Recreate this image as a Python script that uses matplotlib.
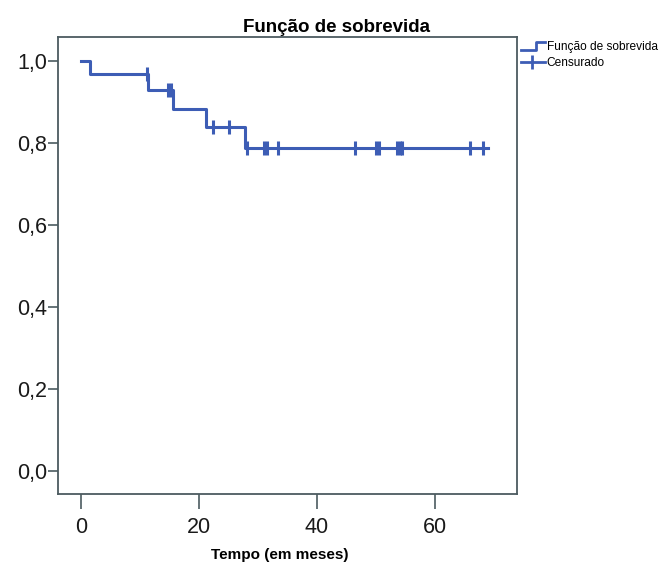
import matplotlib
matplotlib.use("Agg")
import matplotlib.pyplot as plt
import numpy as np
from matplotlib.legend_handler import HandlerBase
from matplotlib.lines import Line2D

# Kaplan-Meier curve
step_times = [0.0, 1.5, 11.3, 15.6, 21.1, 27.8, 69.0]
step_surv = [1.0, 0.967, 0.928, 0.883, 0.839, 0.788, 0.788]
censor_times = [11.2, 14.8, 15.3, 22.4, 25.0, 28.2, 31.0, 31.6, 33.4,
                46.4, 50.0, 50.6, 53.6, 54.0, 54.4, 65.9, 68.2]

x_ticks = [0, 20, 40, 60]
y_ticks = [0.0, 0.2, 0.4, 0.6, 0.8, 1.0]
y_ticklabels = ["0,0", "0,2", "0,4", "0,6", "0,8", "1,0"]

blue = "#3d5db5"
spine = "#4c5b60"

plt.rcParams['font.family'] = ['Liberation Sans', 'DejaVu Sans']


class StepHandler(HandlerBase):
    # little step shape like the SPSS legend
    def create_artists(self, legend, orig, xd, yd, w, h, fontsize, trans):
        xs = [xd, xd + w * 0.65, xd + w * 0.65, xd + w]
        ys = [yd - h * 0.05, yd - h * 0.05, yd + h * 0.95, yd + h * 0.95]
        ln = Line2D(xs, ys, color=blue, lw=2, transform=trans)
        return [ln]


class CensorHandler(HandlerBase):
    def create_artists(self, legend, orig, xd, yd, w, h, fontsize, trans):
        ln = Line2D([xd, xd + w], [yd + h / 2, yd + h / 2], color=blue, lw=2,
                    transform=trans)
        mk = Line2D([xd + w * 0.45], [yd + h / 2], color=blue, marker='|',
                    markersize=10, mew=2, ls='none', transform=trans)
        return [ln, mk]


fig = plt.figure(figsize=(6.64, 5.65), dpi=100)
ax = fig.add_axes([0.088, 0.125, 0.690, 0.809])

ax.step(step_times, step_surv, where='post', color=blue, lw=2.2)

# censored marks sit on the curve
idx = np.searchsorted(step_times, censor_times, side='right') - 1
censor_surv = np.array(step_surv)[idx]
ax.plot(censor_times, censor_surv, ls='none', marker='|', markersize=10,
        mew=2.2, color=blue)

ax.set_xlim(-3.85, 73.85)
ax.set_ylim(-0.058, 1.057)
ax.set_xticks(x_ticks)
ax.set_yticks(y_ticks)
ax.set_yticklabels(y_ticklabels)
ax.tick_params(axis='both', labelsize=15.5, colors='#1a1a1a')
ax.tick_params(axis='x', length=11, width=1.2, color=spine, pad=5)
ax.tick_params(axis='y', length=7, width=1.2, color=spine, pad=1)
for s in ax.spines.values():
    s.set_color(spine)
    s.set_linewidth(1.3)

# SPSS puts the title over the whole chart, not the plot box
ax.set_title("Função de sobrevida", fontsize=13.5, fontweight='bold', pad=4,
             x=0.606)
ax.set_xlabel("Tempo (em meses)", fontsize=11, fontweight='bold')
ax.xaxis.label.set_va('center')
ax.xaxis.set_label_coords(0.484, -0.132)

h1 = Line2D([], [], color=blue)
h2 = Line2D([], [], color=blue, marker='|')
fig.legend([h1, h2], ["Função de sobrevida", "Censurado"],
           handler_map={h1: StepHandler(), h2: CensorHandler()},
           loc='upper left', bbox_to_anchor=(0.7845, 0.928), frameon=False,
           fontsize=8.6, handlelength=2.0, handletextpad=0.15,
           labelspacing=0.35, borderaxespad=0, borderpad=0)

fig.savefig("out.png", dpi=100)
